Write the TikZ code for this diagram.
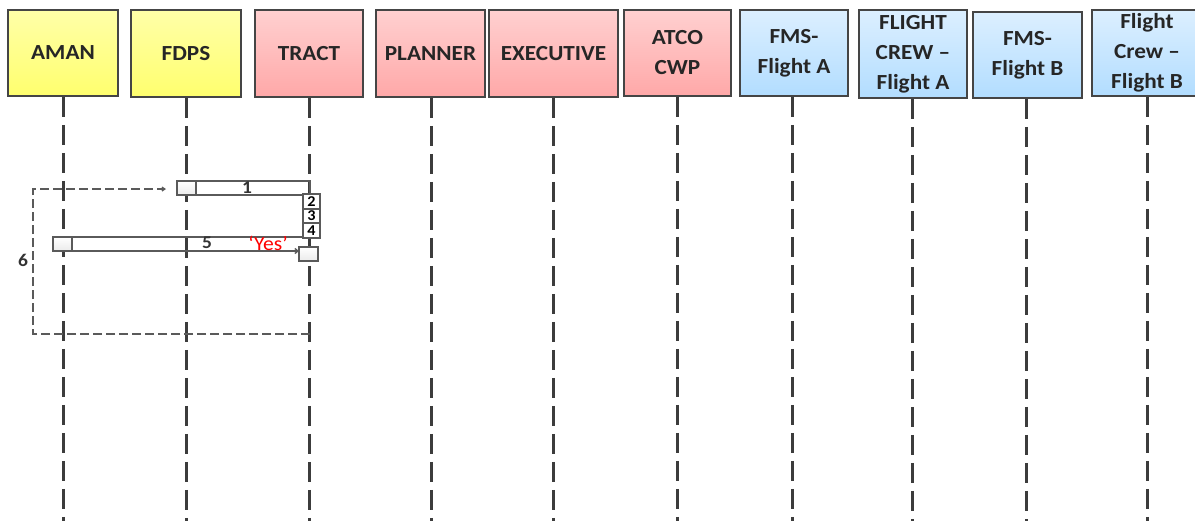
\documentclass[tikz,border=0pt]{standalone}
\usepackage{fontspec}
\setmainfont{Carlito}[FakeStretch=1.08]
\usetikzlibrary{arrows.meta}
\definecolor{edge}{HTML}{454545}
\definecolor{lifeclr}{HTML}{3C3C3C}
\definecolor{ylwTop}{HTML}{FFFFA8}
\definecolor{ylwBot}{HTML}{FFFF6E}
\definecolor{pnkTop}{HTML}{FFD0D0}
\definecolor{pnkBot}{HTML}{FFA8A8}
\definecolor{bluTop}{HTML}{DCEFFF}
\definecolor{bluBot}{HTML}{B2DDFF}
\definecolor{barclr}{HTML}{5A5A5A}
\tikzset{
  hdr/.style={draw=edge, line width=1.6pt, minimum width=108, minimum height=86,
    align=center, inner sep=0pt, font=\fontsize{21.5}{30}\selectfont\bfseries,
    text=black!85},
  ylw/.style={hdr, top color=ylwTop, bottom color=ylwBot},
  pnk/.style={hdr, top color=pnkTop, bottom color=pnkBot},
  blu/.style={hdr, top color=bluTop, bottom color=bluBot},
  life/.style={draw=lifeclr, line width=3pt, dash pattern=on 20pt off 8pt},
  act/.style={draw=barclr, line width=1.4pt, top color=white, bottom color=black!8,
    minimum width=19, minimum height=14, inner sep=0pt, outer sep=0pt},
  stepbox/.style={draw=barclr, line width=1.2pt, fill=white, minimum width=17,
    inner sep=0pt, outer sep=0pt, font=\fontsize{15}{15}\selectfont\bfseries},
  bar/.style={draw=barclr, line width=1.4pt},
  numlbl/.style={font=\fontsize{18}{18}\selectfont\bfseries, text=black!80, inner sep=0pt},
  frame/.style={draw=barclr, line width=1.2pt, dash pattern=on 9pt off 4pt},
}
\begin{document}
\begin{tikzpicture}[x=1pt, y=-1pt]
\useasboundingbox (0,0) rectangle (1195,520);

% actor headers
\node[ylw, minimum width=110] (aman) at (63,53) {AMAN};
\node[ylw, minimum width=110, minimum height=87] (fdps) at (186,53.5) {FDPS};
\node[pnk, minimum height=87] (tract) at (309,53.5) {TRACT};
\node[pnk, minimum width=109, minimum height=87] (planner) at (430.5,53.5) {PLANNER};
\node[pnk, minimum width=129, minimum height=87] (exec) at (553.5,53.5) {EXECUTIVE};
\node[pnk, minimum width=107] (atco) at (677.5,53) {ATCO\\CWP};
\node[blu] (fmsa) at (794,53) {FMS-\\Flight A};
\node[blu, minimum height=88] (crewa) at (913,54) {FLIGHT\\CREW –\\Flight A};
\node[blu, minimum width=109] (fmsb) at (1027.5,55) {FMS-\\Flight B};
\node[blu, minimum width=110] (crewb) at (1147,53) {Flight\\Crew –\\Flight B};

% lifelines
\foreach \n/\x in {aman/63, fdps/186, tract/309, planner/431, exec/553,
                   atco/677, fmsa/792, crewa/912, fmsb/1026, crewb/1147}{
  \coordinate (\n-end) at (\x,522);
  \draw[life] (\x,0 |- \n.south) -- (\n-end);
}

% loop frame 6
\coordinate (f-tl) at (33,189);
\coordinate (f-tip) at (166,189);
\coordinate (f-br) at (310,334);
\draw[frame, -{Straight Barb[length=3pt,width=4pt]}] (f-br) -| (f-tl) -- (f-tip);
\node[numlbl] (l6) at (23,260) {6};

% message 1: FDPS -> TRACT
\node[act] (a1) at (186.5,188) {};
\coordinate (t1) at (310,181);
\draw[bar] (a1.north east) -- (a1.north east -| t1) -- (a1.south east -| t1) -- (a1.south east);
\node[numlbl] (l1) at (247,188) {1};

% steps 2-4 on TRACT
\node[stepbox, minimum height=15] (s2) at (311.5,201.5) {2};
\node[stepbox, minimum height=14] (s3) at (311.5,216) {3};
\node[stepbox, minimum height=15] (s4) at (311.5,230.5) {4};

% message 5: AMAN -> TRACT
\node[act] (a5) at (62.5,244) {};
\node[act] (r5) at (308.5,254) {};
\draw[bar] (a5.north east) -- (a5.north east -| s4.south west);
\draw[bar, -{Straight Barb[length=3pt,width=5pt]}] (a5.south east) -- (a5.south east -| r5.west);
\node[numlbl] (l5) at (207,243) {5};
\node[font=\fontsize{20}{20}\selectfont, text=red, inner sep=0pt] (yes) at (268,243) {‘Yes’};
\end{tikzpicture}
\end{document}
